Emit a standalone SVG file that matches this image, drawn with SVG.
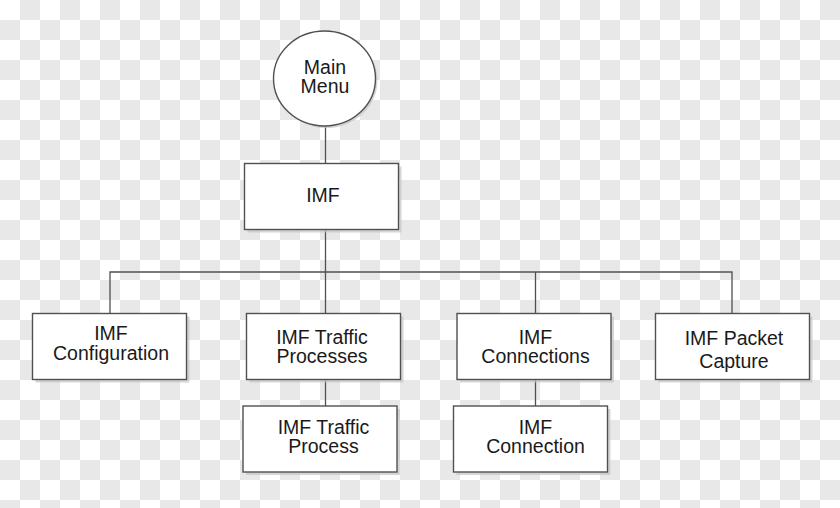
<svg xmlns="http://www.w3.org/2000/svg" width="840" height="508" viewBox="0 0 840 508">
<defs>
<pattern id="checker" x="0" y="0" width="40" height="40" patternUnits="userSpaceOnUse">
<rect x="0" y="0" width="40" height="40" fill="#ffffff"/>
<path d="M20 0h20v20h-20z M0 20h20v20h-20z" fill="#e8e8e8"/>
</pattern>
</defs>
<style>
.box{fill:#ffffff;stroke:#505050;stroke-width:1.4}
.shadow{fill:#c4c4c4;opacity:0.7}
.lbl{font-family:"Liberation Sans",Arial,sans-serif;font-size:19.5px;fill:#1a1a1a;text-anchor:middle}
.conn{stroke:#505050;stroke-width:1.3;fill:none}
</style>
<rect id="background" x="0" y="0" width="840" height="508" style="fill:url(#checker)"/>
<g id="connectors">
<line class="conn" x1="325.5" y1="126" x2="325.5" y2="163.5"/>
<line class="conn" x1="325.5" y1="229.5" x2="325.5" y2="313.5"/>
<polyline class="conn" points="110,313.5 110,272 732,272 732,313.5"/>
<line class="conn" x1="535.5" y1="272" x2="535.5" y2="313.5"/>
<line class="conn" x1="325.5" y1="379.5" x2="325.5" y2="406"/>
<line class="conn" x1="535.5" y1="379.5" x2="535.5" y2="406"/>
</g>
<g id="main-menu">
<ellipse class="shadow" cx="326.5" cy="80.5" rx="51" ry="47.5"/>
<ellipse class="box" cx="324.5" cy="78.5" rx="51" ry="47.5"/>
<text class="lbl"><tspan x="325" y="74">Main</tspan><tspan x="325" y="93">Menu</tspan></text>
</g>
<g id="imf">
<rect class="shadow" x="247.5" y="166.5" width="154" height="66"/>
<rect class="box" x="244.5" y="163.5" width="154" height="66"/>
<text class="lbl" x="323" y="201.5">IMF</text>
</g>
<g id="imf-configuration">
<rect class="shadow" x="35.5" y="316.5" width="154" height="66"/>
<rect class="box" x="32.5" y="313.5" width="154" height="66"/>
<text class="lbl"><tspan x="111" y="340">IMF</tspan><tspan x="111" y="359.5">Configuration</tspan></text>
</g>
<g id="imf-traffic-processes">
<rect class="shadow" x="249.5" y="316.5" width="154" height="66"/>
<rect class="box" x="246.5" y="313.5" width="154" height="66"/>
<text class="lbl"><tspan x="322" y="343.5">IMF Traffic</tspan><tspan x="322" y="362.5">Processes</tspan></text>
</g>
<g id="imf-connections">
<rect class="shadow" x="460" y="316.5" width="154" height="66"/>
<rect class="box" x="457" y="313.5" width="154" height="66"/>
<text class="lbl"><tspan x="535.5" y="343.5">IMF</tspan><tspan x="535.5" y="362.5">Connections</tspan></text>
</g>
<g id="imf-packet-capture">
<rect class="shadow" x="658.5" y="316.5" width="154" height="66"/>
<rect class="box" x="655.5" y="313.5" width="154" height="66"/>
<text class="lbl"><tspan x="734" y="344.5">IMF Packet</tspan><tspan x="734" y="367.5">Capture</tspan></text>
</g>
<g id="imf-traffic-process">
<rect class="shadow" x="246" y="409" width="154" height="66"/>
<rect class="box" x="243" y="406" width="154" height="66"/>
<text class="lbl"><tspan x="323.5" y="434">IMF Traffic</tspan><tspan x="323.5" y="452.5">Process</tspan></text>
</g>
<g id="imf-connection">
<rect class="shadow" x="456.5" y="409" width="154" height="66"/>
<rect class="box" x="453.5" y="406" width="154" height="66"/>
<text class="lbl"><tspan x="535.5" y="434">IMF</tspan><tspan x="535.5" y="452.5">Connection</tspan></text>
</g>
</svg>
